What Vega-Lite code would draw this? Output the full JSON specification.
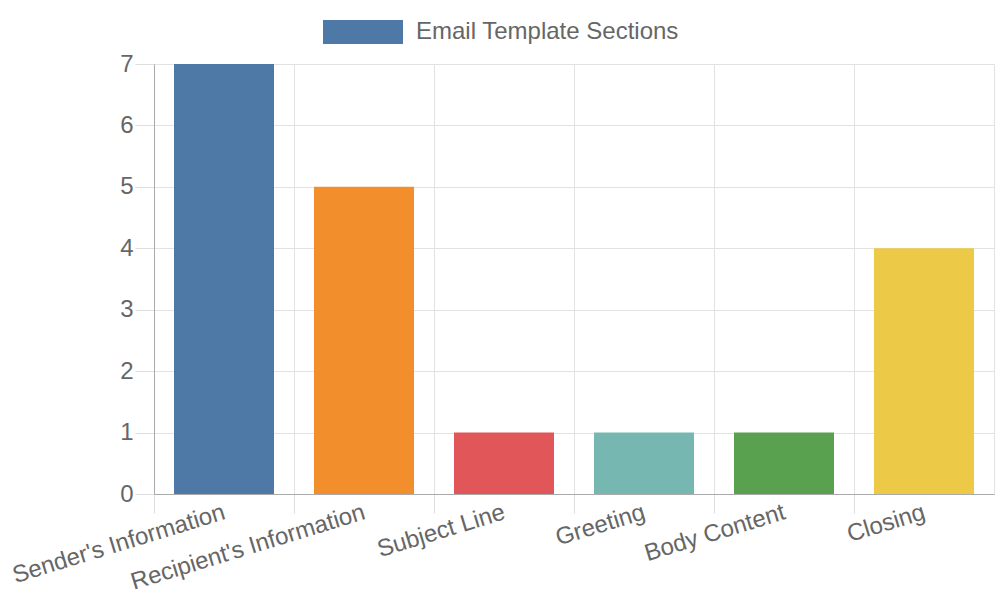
{
  "$schema": "https://vega.github.io/schema/vega-lite/v6.json",
  "width": 840,
  "height": 430,
  "autosize": {"type": "none"},
  "padding": {"left": 154, "top": 64, "right": 6, "bottom": 106},
  "background": "white",
  "config": {
    "view": {"stroke": "#e2e2e2"},
    "font": "Liberation Sans"
  },
  "data": {
    "values": [
      {"section": "Sender's Information", "count": 7},
      {"section": "Recipient's Information", "count": 5},
      {"section": "Subject Line", "count": 1},
      {"section": "Greeting", "count": 1},
      {"section": "Body Content", "count": 1},
      {"section": "Closing", "count": 4}
    ]
  },
  "layer": [
    {
      "mark": {"type": "bar", "width": {"band": 0.7143}},
      "encoding": {
        "x": {
          "field": "section",
          "type": "nominal",
          "sort": null,
          "scale": {"paddingInner": 0, "paddingOuter": 0},
          "axis": {
            "title": null,
            "bandPosition": 0,
            "grid": true,
            "gridColor": "#e2e2e2",
            "ticks": true,
            "tickSize": 19,
            "tickColor": "#dddddd",
            "domainColor": "#aaaaaa",
            "labelAngle": -17,
            "labelAlign": "right",
            "labelBaseline": "top",
            "labelOffset": -3,
            "labelPadding": -13,
            "labelLimit": 0,
            "labelFontSize": 24,
            "labelColor": "#666666"
          }
        },
        "y": {
          "field": "count",
          "type": "quantitative",
          "scale": {"domain": [0, 7], "nice": false},
          "axis": {
            "title": null,
            "values": [0, 1, 2, 3, 4, 5, 6, 7],
            "format": "d",
            "grid": true,
            "gridColor": "#e2e2e2",
            "ticks": true,
            "tickSize": 19,
            "tickColor": "#dddddd",
            "domainColor": "#aaaaaa",
            "labelPadding": 2,
            "labelFontSize": 24,
            "labelColor": "#666666"
          }
        },
        "fill": {
          "field": "section",
          "type": "nominal",
          "sort": null,
          "scale": {
            "domain": ["Sender's Information", "Recipient's Information", "Subject Line", "Greeting", "Body Content", "Closing"],
            "range": ["#4e79a7", "#f28e2b", "#e15759", "#76b7b2", "#59a14f", "#edc948"]
          },
          "legend": null
        }
      }
    },
    {
      "mark": {"type": "square", "opacity": 0, "filled": true},
      "encoding": {
        "x": {"field": "section", "type": "nominal", "sort": null},
        "y": {"field": "count", "type": "quantitative"},
        "color": {
          "datum": "Email Template Sections",
          "type": "nominal",
          "scale": {"range": ["#4e79a7"]},
          "legend": {
            "title": null,
            "orient": "none",
            "legendX": 169,
            "legendY": -72,
            "padding": 0,
            "symbolType": "M-1,-0.3H1V0.3H-1Z",
            "symbolSize": 6400,
            "symbolOpacity": 1,
            "symbolStrokeWidth": 0,
            "labelFontSize": 24,
            "labelLimit": 0,
            "labelColor": "#666666",
            "labelOffset": 13
          }
        }
      }
    }
  ]
}
